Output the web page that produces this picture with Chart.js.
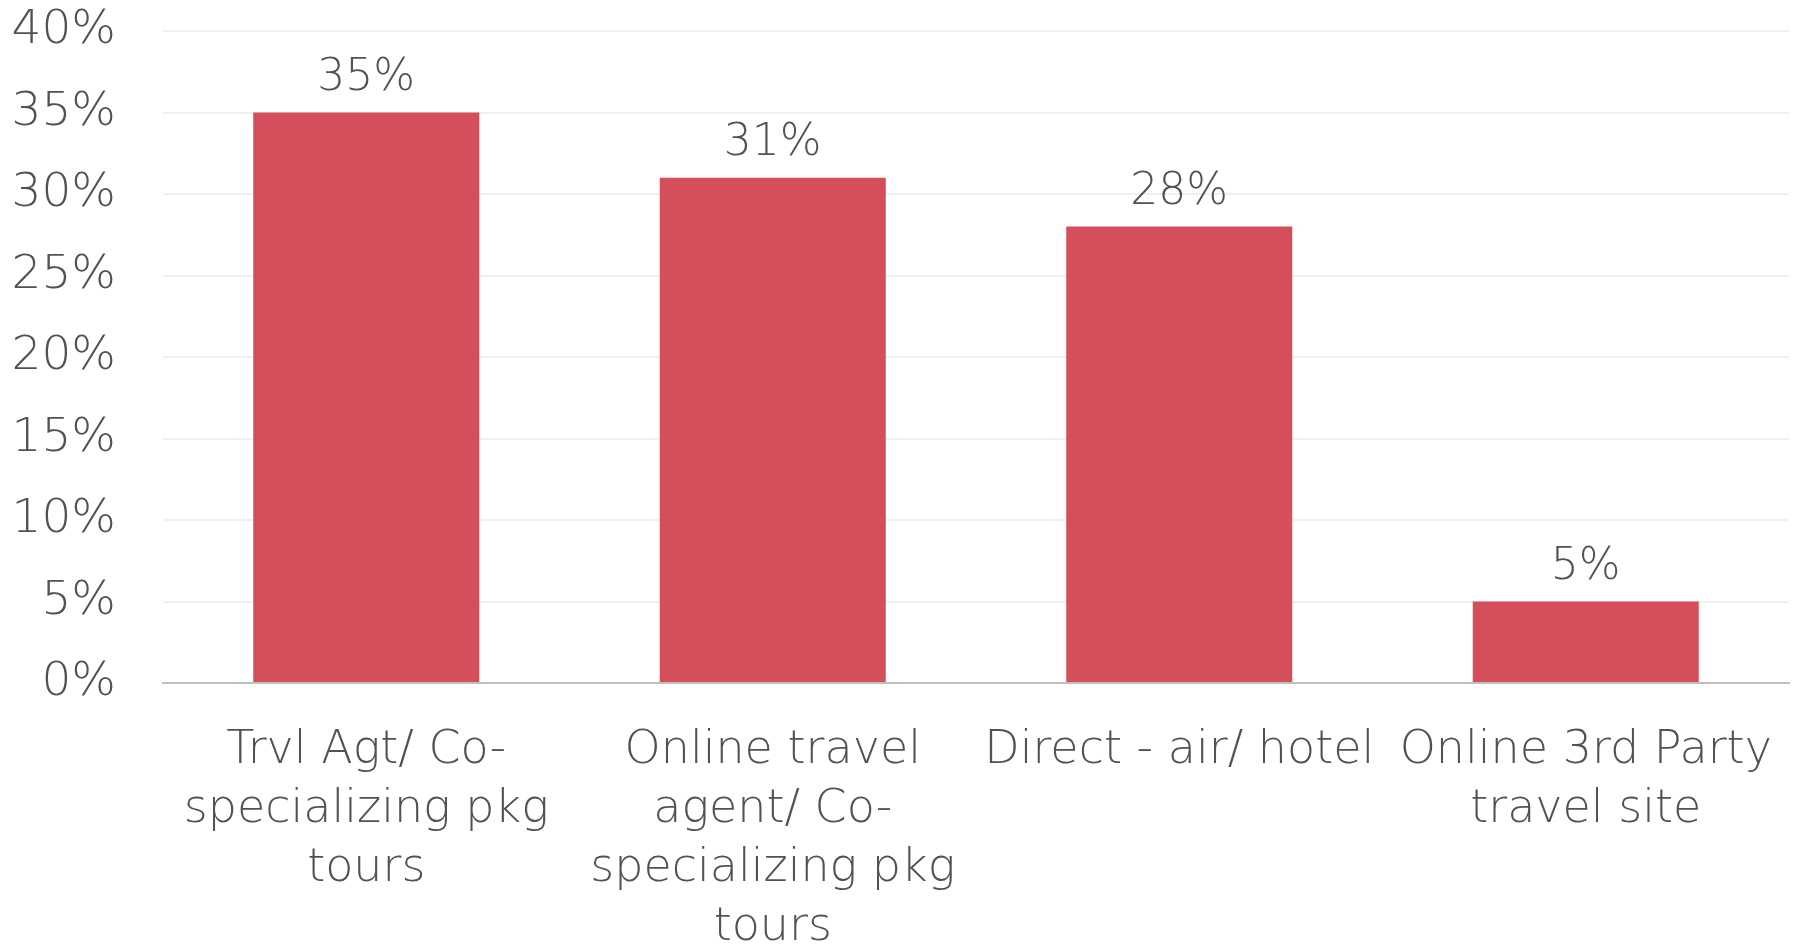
<!DOCTYPE html>
<html>
<head>
<meta charset="utf-8">
<title>Booking channel</title>
<script src="https://cdn.jsdelivr.net/npm/chart.js@4"></script>
<style>
  html, body { margin: 0; padding: 0; background: #ffffff; }
  #wrap { width: 1798px; height: 944px; position: relative; }
</style>
</head>
<body>
<div id="wrap"><canvas id="chart"></canvas></div>
<script>
// categories (pre-split into lines) and share of respondents, in %
const categories = [
  ['Trvl Agt/ Co-', 'specializing pkg', 'tours'],
  ['Online travel', 'agent/ Co-', 'specializing pkg', 'tours'],
  ['Direct - air/ hotel'],
  ['Online 3rd Party', 'travel site']
];
const shares = [35, 31, 28, 5];
const yTicks = [0, 5, 10, 15, 20, 25, 30, 35, 40];

const TEXT = '#525252';
const FONT = '"DejaVu Sans", sans-serif';

// value labels above each bar
const barLabels = {
  id: 'barLabels',
  afterDatasetsDraw(chart) {
    const ctx = chart.ctx;
    const meta = chart.getDatasetMeta(0);
    ctx.save();
    ctx.fillStyle = TEXT;
    ctx.font = '200 44px ' + FONT;
    ctx.textAlign = 'center';
    ctx.textBaseline = 'alphabetic';
    meta.data.forEach((bar, i) => {
      ctx.fillText(shares[i] + '%', bar.x, bar.y - 23);
    });
    ctx.restore();
  }
};

new Chart(document.getElementById('chart'), {
  type: 'bar',
  data: {
    labels: categories,
    datasets: [{
      data: shares,
      backgroundColor: '#D44E5C',
      categoryPercentage: 0.556,
      barPercentage: 1
    }]
  },
  options: {
    responsive: true,
    maintainAspectRatio: false,
    animation: false,
    layout: { padding: { top: 31, left: 0, right: 9, bottom: 0 } },
    plugins: {
      legend: { display: false },
      tooltip: { enabled: false }
    },
    scales: {
      x: {
        grid: { display: false },
        border: { display: true, color: '#BFBFBF', width: 2 },
        ticks: {
          color: TEXT,
          font: { family: FONT, size: 46, weight: 200, lineHeight: 1.28 },
          maxRotation: 0,
          autoSkip: false,
          padding: 31
        },
        afterFit(scale) {
          scale.height = 944 - 683;
          scale.paddingLeft = 0;
          scale.paddingRight = 0;
        }
      },
      y: {
        min: 0,
        max: 40,
        afterBuildTicks(scale) { scale.ticks = yTicks.map(v => ({ value: v })); },
        grid: { color: '#F0F0F0', lineWidth: 2, drawTicks: false },
        border: { display: false },
        ticks: {
          color: TEXT,
          font: { family: FONT, size: 47, weight: 200 },
          padding: 47,
          callback: v => v + '%'
        },
        afterFit(scale) {
          scale.width = 163;
          scale.paddingTop = 0;
          scale.paddingBottom = 0;
        }
      }
    }
  },
  plugins: [barLabels]
});
</script>
</body>
</html>
